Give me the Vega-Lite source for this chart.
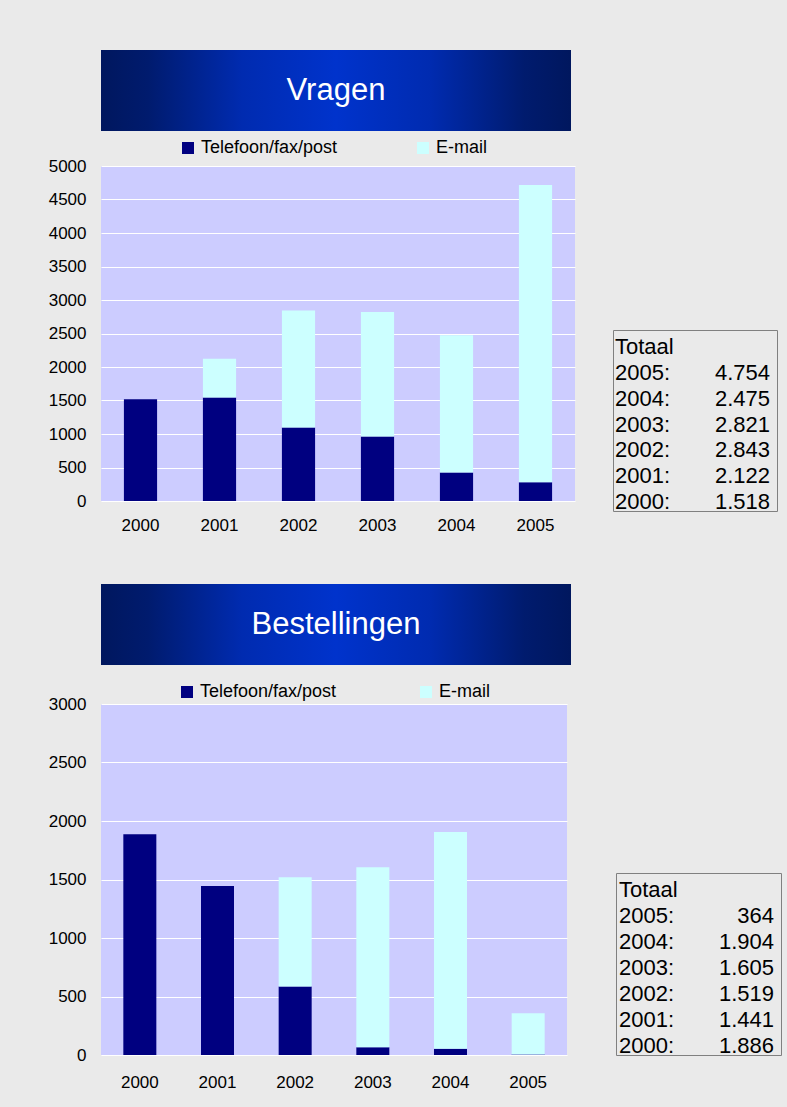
{
  "$schema": "https://vega.github.io/schema/vega-lite/v6.json",
  "background": "#EAEAEA",
  "padding": {"left": 48, "top": 50, "right": 20, "bottom": 40},
  "config": {
    "font": "Liberation Sans",
    "view": {"stroke": null},
    "axis": {"labelFont": "Liberation Sans", "labelColor": "#000000", "labelFontSize": 17, "domain": false, "ticks": false, "tickSize": 0, "title": null},
    "legend": {"labelFont": "Liberation Sans", "labelFontSize": 18, "labelColor": "#000000"},
    "text": {"font": "Liberation Sans", "color": "#000000"}
  },
  "resolve": {"scale": {"color": "independent"}, "legend": {"color": "independent"}},
  "datasets": {
    "vragen": [
      {"jaar": "2000", "kanaal": "Telefoon/fax/post", "volgorde": 1, "aantal": 1518},
      {"jaar": "2001", "kanaal": "Telefoon/fax/post", "volgorde": 1, "aantal": 1543},
      {"jaar": "2001", "kanaal": "E-mail", "volgorde": 2, "aantal": 579},
      {"jaar": "2002", "kanaal": "Telefoon/fax/post", "volgorde": 1, "aantal": 1097},
      {"jaar": "2002", "kanaal": "E-mail", "volgorde": 2, "aantal": 1746},
      {"jaar": "2003", "kanaal": "Telefoon/fax/post", "volgorde": 1, "aantal": 963},
      {"jaar": "2003", "kanaal": "E-mail", "volgorde": 2, "aantal": 1858},
      {"jaar": "2004", "kanaal": "Telefoon/fax/post", "volgorde": 1, "aantal": 427},
      {"jaar": "2004", "kanaal": "E-mail", "volgorde": 2, "aantal": 2048},
      {"jaar": "2005", "kanaal": "Telefoon/fax/post", "volgorde": 1, "aantal": 278},
      {"jaar": "2005", "kanaal": "E-mail", "volgorde": 2, "aantal": 4440}
    ],
    "bestellingen": [
      {"jaar": "2000", "kanaal": "Telefoon/fax/post", "volgorde": 1, "aantal": 1886},
      {"jaar": "2001", "kanaal": "Telefoon/fax/post", "volgorde": 1, "aantal": 1445},
      {"jaar": "2002", "kanaal": "Telefoon/fax/post", "volgorde": 1, "aantal": 586},
      {"jaar": "2002", "kanaal": "E-mail", "volgorde": 2, "aantal": 933},
      {"jaar": "2003", "kanaal": "Telefoon/fax/post", "volgorde": 1, "aantal": 66},
      {"jaar": "2003", "kanaal": "E-mail", "volgorde": 2, "aantal": 1539},
      {"jaar": "2004", "kanaal": "Telefoon/fax/post", "volgorde": 1, "aantal": 54},
      {"jaar": "2004", "kanaal": "E-mail", "volgorde": 2, "aantal": 1852},
      {"jaar": "2005", "kanaal": "Telefoon/fax/post", "volgorde": 1, "aantal": 5},
      {"jaar": "2005", "kanaal": "E-mail", "volgorde": 2, "aantal": 352}
    ],
    "totV": [
      {"regel": "Totaal", "totaal": ""},
      {"regel": "2005:", "totaal": "4.754"},
      {"regel": "2004:", "totaal": "2.475"},
      {"regel": "2003:", "totaal": "2.821"},
      {"regel": "2002:", "totaal": "2.843"},
      {"regel": "2001:", "totaal": "2.122"},
      {"regel": "2000:", "totaal": "1.518"}
    ],
    "totB": [
      {"regel": "Totaal", "totaal": ""},
      {"regel": "2005:", "totaal": "364"},
      {"regel": "2004:", "totaal": "1.904"},
      {"regel": "2003:", "totaal": "1.605"},
      {"regel": "2002:", "totaal": "1.519"},
      {"regel": "2001:", "totaal": "1.441"},
      {"regel": "2000:", "totaal": "1.886"}
    ]
  },
  "spacing": 51,
  "vconcat": [
    {
      "spacing": 37,
      "resolve": {"scale": {"color": "independent"}, "legend": {"color": "independent"}},
      "hconcat": [
        {
          "spacing": 8,
          "resolve": {"scale": {"color": "independent"}, "legend": {"color": "independent"}},
          "vconcat": [
            {
              "width": 470, "height": 81,
              "data": {"values": [{"titel": "Vragen"}]},
              "view": {"stroke": null},
              "encoding": {
                "x": {"field": "titel", "type": "nominal", "axis": null, "scale": {"type": "band", "paddingInner": 0, "paddingOuter": 0}},
                "y": {"field": "titel", "type": "nominal", "axis": null, "scale": {"type": "band", "paddingInner": 0, "paddingOuter": 0}}
              },
              "layer": [
                {"mark": {"type": "rect", "fill": {"gradient": "linear", "x1": 0, "y1": 0, "x2": 1, "y2": 0, "stops": [
                  {"offset": 0, "color": "#00175E"}, {"offset": 0.1, "color": "#001B6E"}, {"offset": 0.3, "color": "#002BB0"},
                  {"offset": 0.5, "color": "#0033CC"}, {"offset": 0.7, "color": "#002BB0"}, {"offset": 0.9, "color": "#001B6E"}, {"offset": 1, "color": "#00175E"}]}}},
                {"mark": {"type": "text", "color": "#FFFFFF", "fontSize": 31, "baseline": "middle", "align": "center"}, "encoding": {"text": {"field": "titel"}}}
              ]
            },
            {
              "width": 474, "height": 335,
              "data": {"name": "vragen"},
              "view": {"fill": "#CCCCFF", "stroke": null},
              "mark": {"type": "bar"},
              "encoding": {
                "x": {"field": "jaar", "type": "nominal", "scale": {"paddingInner": 0.58, "paddingOuter": 0.29}, "axis": {"labelAngle": 0, "labelPadding": 16, "grid": false}},
                "y": {"field": "aantal", "type": "quantitative", "stack": "zero", "scale": {"domain": [0, 5000], "nice": false}, "axis": {"values": [0, 500, 1000, 1500, 2000, 2500, 3000, 3500, 4000, 4500, 5000], "format": "d", "grid": true, "gridColor": "#FFFFFF", "gridWidth": 1.2, "gridOpacity": 1, "labelPadding": 15}},
                "color": {"field": "kanaal", "type": "nominal", "sort": ["Telefoon/fax/post", "E-mail"], "scale": {"domain": ["Telefoon/fax/post", "E-mail"], "range": ["#000080", "#CCFFFF"]},
                  "legend": {"title": null, "orient": "none", "legendX": 78, "legendY": -27, "direction": "horizontal", "symbolType": "square", "symbolSize": 144, "symbolStrokeWidth": 0, "symbolOpacity": 1, "labelOffset": 4, "columnPadding": 76}},
                "order": {"field": "volgorde", "type": "quantitative"}
              }
            }
          ]
        },
        {
          "spacing": 0,
          "vconcat": [
            {"width": 164, "height": 279, "data": {"values": []}, "mark": "point", "view": {"stroke": null}},
            {
              "width": 164, "height": 181,
              "data": {"name": "totV"},
              "view": {"stroke": "#808080", "strokeWidth": 1, "fill": null},
              "encoding": {"y": {"field": "regel", "type": "nominal", "sort": null, "axis": null}},
              "layer": [
                {"mark": {"type": "text", "align": "left", "baseline": "middle", "fontSize": 22, "dx": 2, "dy": 4},
                 "encoding": {"x": {"datum": 0, "type": "quantitative", "scale": {"domain": [0, 1], "nice": false}, "axis": null}, "text": {"field": "regel"}}},
                {"mark": {"type": "text", "align": "right", "baseline": "middle", "fontSize": 22, "dx": -7, "dy": 4},
                 "encoding": {"x": {"datum": 1, "type": "quantitative", "axis": null}, "text": {"field": "totaal"}}}
              ]
            }
          ]
        }
      ]
    },
    {
      "spacing": 44,
      "resolve": {"scale": {"color": "independent"}, "legend": {"color": "independent"}},
      "hconcat": [
        {
          "spacing": 18,
          "resolve": {"scale": {"color": "independent"}, "legend": {"color": "independent"}},
          "vconcat": [
            {
              "width": 470, "height": 81,
              "data": {"values": [{"titel": "Bestellingen"}]},
              "view": {"stroke": null},
              "encoding": {
                "x": {"field": "titel", "type": "nominal", "axis": null, "scale": {"type": "band", "paddingInner": 0, "paddingOuter": 0}},
                "y": {"field": "titel", "type": "nominal", "axis": null, "scale": {"type": "band", "paddingInner": 0, "paddingOuter": 0}}
              },
              "layer": [
                {"mark": {"type": "rect", "fill": {"gradient": "linear", "x1": 0, "y1": 0, "x2": 1, "y2": 0, "stops": [
                  {"offset": 0, "color": "#00175E"}, {"offset": 0.1, "color": "#001B6E"}, {"offset": 0.3, "color": "#002BB0"},
                  {"offset": 0.5, "color": "#0033CC"}, {"offset": 0.7, "color": "#002BB0"}, {"offset": 0.9, "color": "#001B6E"}, {"offset": 1, "color": "#00175E"}]}}},
                {"mark": {"type": "text", "color": "#FFFFFF", "fontSize": 31, "baseline": "middle", "align": "center"}, "encoding": {"text": {"field": "titel"}}}
              ]
            },
            {
              "width": 466, "height": 351,
              "data": {"name": "bestellingen"},
              "view": {"fill": "#CCCCFF", "stroke": null},
              "mark": {"type": "bar"},
              "encoding": {
                "x": {"field": "jaar", "type": "nominal", "scale": {"paddingInner": 0.575, "paddingOuter": 0.2875}, "axis": {"labelAngle": 0, "labelPadding": 19, "grid": false}},
                "y": {"field": "aantal", "type": "quantitative", "stack": "zero", "scale": {"domain": [0, 3000], "nice": false}, "axis": {"values": [0, 500, 1000, 1500, 2000, 2500, 3000], "format": "d", "grid": true, "gridColor": "#FFFFFF", "gridWidth": 1.2, "gridOpacity": 1, "labelPadding": 15}},
                "color": {"field": "kanaal", "type": "nominal", "sort": ["Telefoon/fax/post", "E-mail"], "scale": {"domain": ["Telefoon/fax/post", "E-mail"], "range": ["#000080", "#CCFFFF"]},
                  "legend": {"title": null, "orient": "none", "legendX": 77, "legendY": -21, "direction": "horizontal", "symbolType": "square", "symbolSize": 144, "symbolStrokeWidth": 0, "symbolOpacity": 1, "labelOffset": 4, "columnPadding": 80}},
                "order": {"field": "volgorde", "type": "quantitative"}
              }
            }
          ]
        },
        {
          "spacing": 0,
          "vconcat": [
            {"width": 165, "height": 288, "data": {"values": []}, "mark": "point", "view": {"stroke": null}},
            {
              "width": 165, "height": 182,
              "data": {"name": "totB"},
              "view": {"stroke": "#808080", "strokeWidth": 1, "fill": null},
              "encoding": {"y": {"field": "regel", "type": "nominal", "sort": null, "axis": null}},
              "layer": [
                {"mark": {"type": "text", "align": "left", "baseline": "middle", "fontSize": 22, "dx": 3, "dy": 4},
                 "encoding": {"x": {"datum": 0, "type": "quantitative", "scale": {"domain": [0, 1], "nice": false}, "axis": null}, "text": {"field": "regel"}}},
                {"mark": {"type": "text", "align": "right", "baseline": "middle", "fontSize": 22, "dx": -7, "dy": 4},
                 "encoding": {"x": {"datum": 1, "type": "quantitative", "axis": null}, "text": {"field": "totaal"}}}
              ]
            }
          ]
        }
      ]
    }
  ]
}
